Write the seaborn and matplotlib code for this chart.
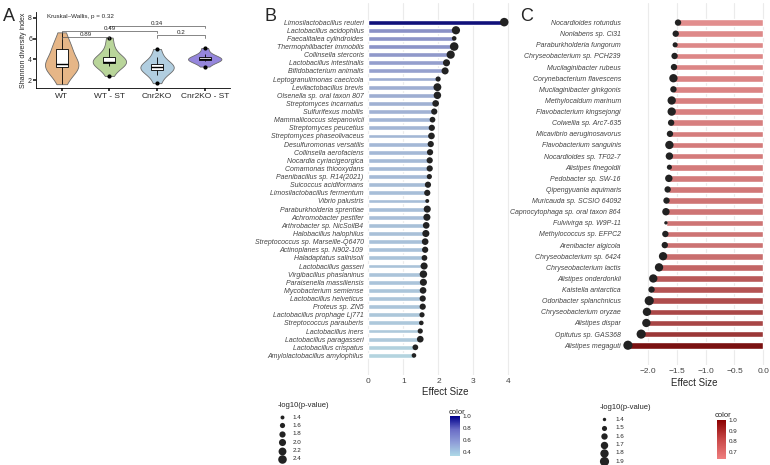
import numpy as np
import pandas as pd
import matplotlib
matplotlib.use("Agg")
import matplotlib.pyplot as plt
import seaborn as sns
from matplotlib.colors import LinearSegmentedColormap, Normalize
from matplotlib.lines import Line2D

# ---------------- data ----------------
groups = ["WT", "WT - ST", "Cnr2KO", "Cnr2KO - ST"]
wt_vals = [1.6, 2.6, 3.0, 3.3, 3.4, 3.5, 3.6, 4.0, 4.9, 5.2, 5.4, 6.6]
wtst_vals = [2.4, 3.4, 3.6, 3.7, 3.7, 3.8, 4.0, 4.3, 5.1, 6.1]
ko_vals = [1.7, 2.5, 2.9, 3.1, 3.2, 3.3, 3.4, 3.6, 4.2, 5.0]
kost_vals = [3.3, 3.8, 3.9, 4.0, 4.0, 4.1, 4.2, 4.5, 5.1]
pair_p = ["0.89", "0.49", "0.34", "0.2"]

b_names = ["Limosilactobacillus reuteri", "Lactobacillus acidophilus", "Faecalitalea cylindroides",
           "Thermophilibacter immobilis", "Collinsella stercoris", "Lactobacillus intestinalis",
           "Bifidobacterium animalis", "Leptogranulimonas caecicola", "Levilactobacillus brevis",
           "Olsenella sp. oral taxon 807", "Streptomyces incarnatus", "Sulfurifexus mobilis",
           "Mammaliicoccus stepanovicii", "Streptomyces peucetius", "Streptomyces phaseolivaceus",
           "Desulfuromonas versatilis", "Collinsella aerofaciens", "Nocardia cyriacigeorgica",
           "Comamonas thiooxydans", "Paenibacillus sp. R14(2021)", "Suicoccus acidiformans",
           "Limosilactobacillus fermentum", "Vibrio palustris", "Paraburkholderia sprentiae",
           "Achromobacter pestifer", "Arthrobacter sp. NicSoilB4", "Halobacillus halophilus",
           "Streptococcus sp. Marseille-Q6470", "Actinoplanes sp. N902-109", "Haladaptatus salinisoli",
           "Lactobacillus gasseri", "Virgibacillus phasianinus", "Paraisenella massiliensis",
           "Mycobacterium semiense", "Lactobacillus helveticus", "Proteus sp. ZN5",
           "Lactobacillus prophage Lj771", "Streptococcus parauberis", "Lactobacillus iners",
           "Lactobacillus paragasseri", "Lactobacillus crispatus", "Amylolactobacillus amylophilus"]
b_effect = [3.88, 2.50, 2.45, 2.45, 2.35, 2.23, 2.19, 1.99, 1.97, 1.97, 1.92, 1.88, 1.83, 1.81,
            1.80, 1.78, 1.76, 1.75, 1.75, 1.74, 1.70, 1.68, 1.68, 1.68, 1.67, 1.65, 1.64, 1.62,
            1.62, 1.60, 1.59, 1.57, 1.57, 1.56, 1.55, 1.55, 1.53, 1.51, 1.48, 1.48, 1.34, 1.30]
b_logp = [2.4, 2.3, 1.5, 2.4, 2.3, 2.0, 2.0, 1.6, 2.2, 2.1, 1.9, 1.8, 1.7, 1.8, 1.9, 1.8, 1.8,
          1.8, 1.8, 1.6, 1.8, 1.8, 1.4, 2.0, 2.0, 1.9, 2.0, 1.9, 1.8, 1.7, 2.0, 2.1, 2.0, 1.9,
          1.8, 1.8, 1.6, 1.5, 1.6, 1.9, 1.7, 1.5]

c_names = ["Nocardioides rotundus", "Nonlabens sp. Ci31", "Paraburkholderia fungorum",
           "Chryseobacterium sp. PCH239", "Mucilaginibacter rubeus", "Corynebacterium flavescens",
           "Mucilaginibacter ginkgonis", "Methylocaldum marinum", "Flavobacterium kingsejongi",
           "Colwellia sp. Arc7-635", "Micavibrio aeruginosavorus", "Flavobacterium sanguinis",
           "Nocardioides sp. TF02-7", "Alistipes finegoldii", "Pedobacter sp. SW-16",
           "Qipengyuania aquimaris", "Muricauda sp. SCSIO 64092", "Capnocytophaga sp. oral taxon 864",
           "Fulvivirga sp. W9P-11", "Methylococcus sp. EFPC2", "Arenibacter algicola",
           "Chryseobacterium sp. 6424", "Chryseobacterium lactis", "Alistipes onderdonkii",
           "Kaistella antarctica", "Odoribacter splanchnicus", "Chryseobacterium oryzae",
           "Alistipes dispar", "Opitutus sp. GAS368", "Alistipes megaguti"]
c_effect = [-1.48, -1.52, -1.53, -1.54, -1.55, -1.56, -1.56, -1.59, -1.59, -1.60, -1.62, -1.63,
            -1.63, -1.63, -1.64, -1.66, -1.68, -1.69, -1.69, -1.70, -1.71, -1.74, -1.81, -1.91,
            -1.94, -1.98, -2.02, -2.03, -2.12, -2.35]
c_logp = [1.6, 1.6, 1.5, 1.6, 1.6, 1.8, 1.6, 1.8, 1.8, 1.6, 1.6, 1.8, 1.7, 1.5, 1.7, 1.6, 1.6,
          1.7, 1.4, 1.6, 1.6, 1.8, 1.8, 1.8, 1.6, 1.9, 1.8, 1.8, 1.9, 1.9]

b_size_ticks = [1.4, 1.6, 1.8, 2.0, 2.2, 2.4]
c_size_ticks = [1.4, 1.5, 1.6, 1.7, 1.8, 1.9]

def b_size(p):
    return 8 + (np.asarray(p) - 1.4) * 30

def c_size(p):
    return 6 + (np.asarray(p) - 1.4) * 75

# ---------------- figure ----------------
sns.set_theme(style="whitegrid")
plt.rcParams['font.family'] = ['Liberation Sans', 'DejaVu Sans']
fig = plt.figure(figsize=(7.7, 4.65), dpi=100)

# ---- Panel A ----
axA = fig.add_axes([0.047, 0.81, 0.252, 0.165])
dfA = pd.DataFrame({"group": sum([[g] * len(v) for g, v in zip(groups, [wt_vals, wtst_vals, ko_vals, kost_vals])], []),
                    "val": wt_vals + wtst_vals + ko_vals + kost_vals})
vcols = ["#f6b677", "#b9df90", "#a9d0e8", "#8b78ea"]
sns.violinplot(data=dfA, x="group", y="val", hue="group", palette=vcols, legend=False,
               inner=None, cut=0, linewidth=0.6, ax=axA, width=0.7)
sns.boxplot(data=dfA, x="group", y="val", width=0.25, ax=axA, showcaps=False,
            boxprops=dict(facecolor="white", linewidth=0.6), whiskerprops=dict(linewidth=0.6),
            medianprops=dict(linewidth=1, color="black"), flierprops=dict(marker="o", markersize=2,
            markerfacecolor="black"), linecolor="black")
axA.set_facecolor("white")
axA.grid(False)
for s in ["top", "right"]:
    axA.spines[s].set_visible(False)
for s in ["left", "bottom"]:
    axA.spines[s].set_color("black"); axA.spines[s].set_linewidth(0.6)
axA.set_ylim(1.2, 8.6)
axA.set_yticks([2, 4, 6, 8])
axA.tick_params(axis="both", labelsize=5, length=2, pad=1, left=True, bottom=True)
axA.tick_params(axis="x", labelsize=6)
axA.set_xlabel("")
axA.set_ylabel("Shannon diversity index", fontsize=5, labelpad=1)
axA.text(-0.3, 8.0, "Kruskal–Wallis, p = 0.32", fontsize=4.5)
brackets = [(0, 1, 6.15, pair_p[0]), (0, 2, 6.7, pair_p[1]), (1, 3, 7.2, pair_p[2]), (2, 3, 6.3, pair_p[3])]
for x0, x1, yv, lab in brackets:
    axA.plot([x0, x0, x1, x1], [yv - 0.2, yv, yv, yv - 0.2], color="#555", lw=0.5)
    axA.text((x0 + x1) / 2, yv + 0.03, lab, fontsize=4.5, ha="center", va="bottom")

# ---- Panel B ----
cmapB = LinearSegmentedColormap.from_list("b", ["#add8e6", "#8f9ed8", "#6a6cc6", "#00008b"])
b_col = np.array(b_effect) / max(b_effect)
normB = Normalize(0.33, 1.0)
axB = fig.add_axes([0.474, 0.194, 0.209, 0.80])
dfB = pd.DataFrame({"name": b_names, "eff": b_effect})
sns.barplot(data=dfB, x="eff", y="name", hue="name", palette=[cmapB(normB(c)) for c in b_col],
            legend=False, width=0.6, ax=axB)
axB.scatter(b_effect, np.arange(len(b_names)), s=b_size(b_logp), color="#222", zorder=3, lw=0)
axB.set_xlim(-0.1, 4.5)
axB.set_xticks([0, 1, 2, 3, 4])
axB.grid(axis="y", visible=False)
axB.grid(axis="x", color="#ebebeb", lw=0.8)
for s in axB.spines.values():
    s.set_visible(False)
axB.tick_params(axis="y", labelsize=5, pad=1, length=0)
axB.tick_params(axis="x", labelsize=6, pad=2, length=0, labelcolor="#444")
for t in axB.get_yticklabels():
    t.set_style("italic"); t.set_color("#444")
axB.set_ylabel("")
axB.set_xlabel("Effect Size", fontsize=7, labelpad=2)

# ---- Panel C ----
cmapC = LinearSegmentedColormap.from_list("c", ["#f08080", "#c94848", "#8b0000"])
c_col = np.abs(c_effect) / np.max(np.abs(c_effect))
normC = Normalize(0.63, 1.0)
axC = fig.add_axes([0.808, 0.215, 0.187, 0.779])
dfC = pd.DataFrame({"name": c_names, "eff": c_effect})
sns.barplot(data=dfC, x="eff", y="name", hue="name", palette=[cmapC(normC(c)) for c in c_col],
            legend=False, width=0.6, ax=axC)
axC.scatter(c_effect, np.arange(len(c_names)), s=c_size(c_logp), color="#222", zorder=3, lw=0)
axC.set_xlim(-2.45, 0.05)
axC.set_xticks([-2.0, -1.5, -1.0, -0.5, 0.0])
axC.grid(axis="y", visible=False)
axC.grid(axis="x", color="#ebebeb", lw=0.8)
for s in axC.spines.values():
    s.set_visible(False)
axC.tick_params(axis="y", labelsize=5, pad=1, length=0)
axC.tick_params(axis="x", labelsize=6, pad=2, length=0, labelcolor="#444")
for t in axC.get_yticklabels():
    t.set_style("italic"); t.set_color("#444")
axC.set_ylabel("")
axC.set_xlabel("Effect Size", fontsize=7, labelpad=2)

# panel letters
fig.text(0.004, 0.955, "A", fontsize=13)
fig.text(0.343, 0.955, "B", fontsize=13)
fig.text(0.675, 0.955, "C", fontsize=13)

# ---- legends ----
def size_legend(x, y, title, ticks, fn):
    fig.text(x, y, title, fontsize=5.5)
    for i, t in enumerate(ticks):
        yy = y - 0.022 - i * 0.018
        fig.add_artist(Line2D([x + 0.006], [yy], marker="o", color="#222", ls="", markeredgewidth=0,
                              markersize=float(np.sqrt(fn(t))), transform=fig.transFigure))
        fig.text(x + 0.02, yy, f"{t:.1f}", fontsize=4.5, va="center")

size_legend(0.36, 0.125, "-log10(p-value)", b_size_ticks, b_size)
size_legend(0.779, 0.12, "-log10(p-value)", c_size_ticks, c_size)

caxB = fig.add_axes([0.585, 0.02, 0.012, 0.085])
cbB = fig.colorbar(plt.cm.ScalarMappable(norm=Normalize(0.33, 1.0), cmap=cmapB), cax=caxB)
cbB.set_ticks([0.4, 0.6, 0.8, 1.0]); cbB.outline.set_visible(False)
caxB.tick_params(labelsize=4.5, length=0, pad=2)
fig.text(0.582, 0.11, "color", fontsize=5.5)

caxC = fig.add_axes([0.931, 0.012, 0.012, 0.085])
cbC = fig.colorbar(plt.cm.ScalarMappable(norm=Normalize(0.63, 1.0), cmap=cmapC), cax=caxC)
cbC.set_ticks([0.7, 0.8, 0.9, 1.0]); cbC.outline.set_visible(False)
caxC.tick_params(labelsize=4.5, length=0, pad=2)
fig.text(0.928, 0.103, "color", fontsize=5.5)

fig.savefig("out.png", dpi=100)
